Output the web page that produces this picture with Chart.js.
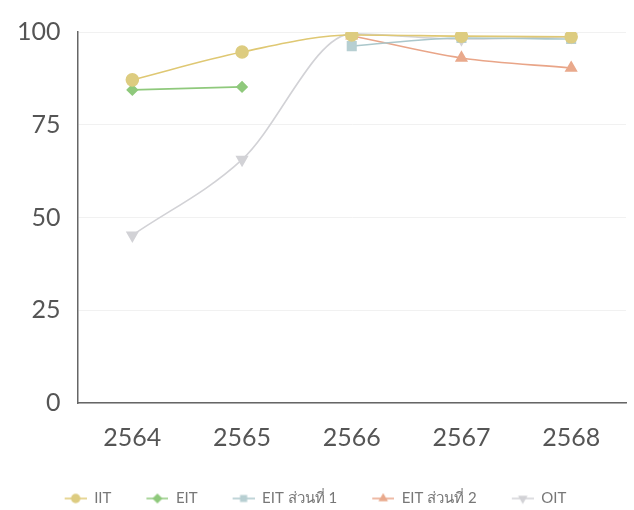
<!DOCTYPE html>
<html>
<head>
<meta charset="utf-8">
<script src="https://cdn.jsdelivr.net/npm/chart.js@4"></script>
<style>
  html, body { margin: 0; padding: 0; background: #fff; }
  #wrap { width: 634px; height: 510px; position: relative; }
</style>
</head>
<body>
<div id="wrap"><canvas id="chart"></canvas></div>
<script>
const years = ["2564", "2565", "2566", "2567", "2568"];
const yTicks = [0, 25, 50, 75, 100];
const iit = [87.1, 94.6, 99.2, 98.9, 98.7];
const eit = [84.4, 85.2, null, null, null];
const eitPart1 = [null, null, 96.2, 98.4, 98.1];
const eitPart2 = [null, null, 99.0, 93.0, 90.3];
const oit = [45.2, 65.6, 99.5, 98.1, 98.7];

const SERIES = [
  { label: "IIT", data: iit, color: "#dfc873", fill: "#ddcc80", style: "circle", rot: 0, r: 6 },
  { label: "EIT", data: eit, color: "#8fc97c", fill: "#8fc97c", style: "rectRot", rot: 0, r: 5 },
  { label: "EIT ส่วนที่ 1", data: eitPart1, color: "#abc7cb", fill: "#b7cfd2", style: "rect", rot: 0, r: 6 },
  { label: "EIT ส่วนที่ 2", data: eitPart2, color: "#e9a588", fill: "#e9a98c", style: "triangle", rot: 0, r: 6 },
  { label: "OIT", data: oit, color: "#d2d2d6", fill: "#d2d2d6", style: "triangle", rot: 180, r: 6 },
];

// "line + marker" legend icon; the blank left part widens the gap between items
const GAP = 31;
function legendIcon(s) {
  const c = document.createElement("canvas");
  c.width = GAP + 22; c.height = 12;
  const g = c.getContext("2d");
  g.strokeStyle = s.color; g.lineWidth = 1.5;
  g.beginPath(); g.moveTo(GAP, 6); g.lineTo(GAP + 22, 6); g.stroke();
  g.fillStyle = s.fill; g.strokeStyle = s.fill;
  Chart.helpers.drawPoint(g, {
    pointStyle: s.style, rotation: s.rot, radius: 4, borderWidth: 1
  }, GAP + 11, 6);
  return c;
}

// nudge the legend: back left so the visible items stay centred, and a bit lower
const shiftLegend = {
  id: "shiftLegend",
  afterLayout(chart) {
    const l = chart.legend;
    l.left -= 13; l.right -= 13;
    l.top += 6; l.bottom += 6;
  },
};

const FONT = "Lato, 'Open Sans', 'DejaVu Sans', sans-serif";

new Chart(document.getElementById("chart"), {
  type: "line",
  data: {
    labels: years,
    datasets: SERIES.map(s => ({
      label: s.label,
      data: s.data,
      borderColor: s.color,
      backgroundColor: s.fill,
      pointBackgroundColor: s.fill,
      pointBorderColor: s.fill,
      pointStyle: s.style,
      pointRotation: s.rot,
      pointRadius: s.r,
      pointHoverRadius: s.r,
      borderWidth: 1.6,
      cubicInterpolationMode: "monotone",
      fill: false,
      spanGaps: false,
    })),
  },
  plugins: [shiftLegend],
  options: {
    animation: false,
    responsive: true,
    maintainAspectRatio: false,
    layout: { padding: { top: 11, right: 8, bottom: 0, left: 0 } },
    plugins: {
      tooltip: { enabled: false },
      legend: {
        position: "bottom",
        labels: {
          usePointStyle: true,
          pointStyleWidth: GAP + 22,
          padding: 4,
          color: "#777",
          font: { family: FONT, size: 15 },
          generateLabels: (chart) => SERIES.map((s, i) => ({
            text: s.label,
            fontColor: "#777",
            pointStyle: legendIcon(s),
            hidden: !chart.isDatasetVisible(i),
            datasetIndex: i,
            lineWidth: 0,
          })),
        },
      },
    },
    scales: {
      x: {
        offset: true,
        grid: { display: false },
        border: { display: true, color: "#666", width: 1.5 },
        ticks: { color: "#555", padding: 12, font: { family: FONT, size: 25 } },
        afterFit: (axis) => { axis.height += 16; },
      },
      y: {
        min: 0, max: 100,
        afterBuildTicks: (axis) => { axis.ticks = yTicks.map(v => ({ value: v })); },
        grid: { color: "#f1f1f1", drawTicks: false },
        border: { display: true, color: "#666", width: 1.5 },
        ticks: { color: "#555", padding: 17, font: { family: FONT, size: 25 } },
      },
    },
  },
});
</script>
</body>
</html>
